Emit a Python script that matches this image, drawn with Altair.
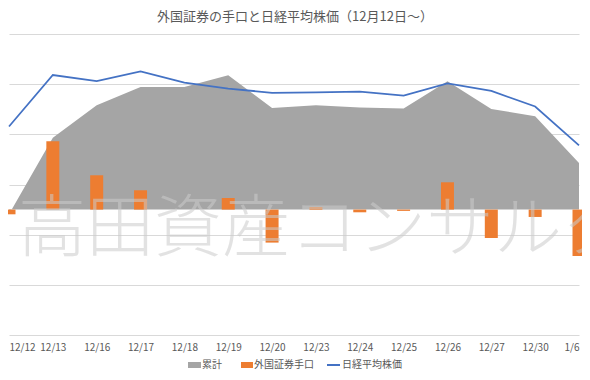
import altair as alt
import pandas as pd

# ---- data ----
dates = ["12/12", "12/13", "12/16", "12/17", "12/18", "12/19", "12/20",
         "12/23", "12/24", "12/25", "12/26", "12/27", "12/30", "1/6"]
foreign_net = [-94, 1361, 684, 385, 0, 231, -658, 52, -54, -26, 544, -566, -147, -925]
cumulative = [-94, 1430, 2079, 2443, 2443, 2677, 2025, 2079, 2033, 2013, 2557, 2005, 1859, 929]
nikkei = [23424.81, 24023.10, 23952.35, 24066.12, 23934.43, 23864.85, 23816.63,
          23821.11, 23830.58, 23782.87, 23924.92, 23837.72, 23656.62, 23204.86]
grid_values = [-2500, -1500, -500, 500, 1500, 2500, 3500]
legend_labels = ["累計", "外国証券手口", "日経平均株価"]
title_text = "外国証券の手口と日経平均株価（12月12日～）"
watermark_text = "高田資産コンサルタント"

df = pd.DataFrame({"date": dates, "net": foreign_net, "cum": cumulative, "nikkei": nikkei})

FONT = "Noto Sans CJK JP"
GRAY = "#A5A5A5"
ORANGE = "#ED7D31"
BLUE = "#4472C4"
TXT = "#595959"

x_enc = alt.X("date:N", sort=dates,
              scale=alt.Scale(type="point", range=[1, 571], padding=0),
              axis=alt.Axis(title=None, labelAngle=0, ticks=False, domain=False, grid=False,
                            labelFont=FONT, labelFontSize=10, labelColor=TXT,
                            labelPadding=7, labelOverlap=False, labelFlush=True))

prim_scale = alt.Scale(domain=[-2500, 3500], nice=False, zero=False)

base = alt.Chart(df)

area = base.mark_area(color=GRAY).encode(
    x=x_enc,
    y=alt.Y("cum:Q", scale=prim_scale,
            axis=alt.Axis(values=grid_values, grid=True, gridColor="#D9D9D9", gridWidth=1,
                          labels=False, ticks=False, domain=False, title=None)),
    y2=alt.datum(0),
)

bars = base.mark_bar(color=ORANGE, size=13).encode(
    x=x_enc,
    y=alt.Y("net:Q", scale=prim_scale, axis=None),
    y2=alt.datum(0),
)

line = base.mark_line(color=BLUE, strokeWidth=1.75).encode(
    x=x_enc,
    y=alt.Y("nikkei:Q", scale=alt.Scale(domain=[21000, 24500], nice=False, zero=False), axis=None),
)

wm = alt.Chart(pd.DataFrame({"t": [watermark_text]})).mark_text(
    font=FONT, fontSize=68, fontWeight=300, color="#CCCCCC", opacity=0.55,
    align="left", baseline="middle"
).encode(x=alt.value(10), y=alt.value(197), text="t:N")

one = pd.DataFrame({"a": [0]})
LEG_Y = 331
leg_gray = alt.Chart(one).mark_rect(color=GRAY).encode(
    x=alt.value(180), x2=alt.value(193), y=alt.value(LEG_Y - 3), y2=alt.value(LEG_Y + 3))
leg_orange = alt.Chart(one).mark_rect(color=ORANGE).encode(
    x=alt.value(233), x2=alt.value(245), y=alt.value(LEG_Y - 3), y2=alt.value(LEG_Y + 3))
leg_blue = alt.Chart(one).mark_rule(color=BLUE, strokeWidth=2).encode(
    x=alt.value(319), x2=alt.value(332), y=alt.value(LEG_Y))

def leg_text(label, xpos):
    return alt.Chart(one).mark_text(font=FONT, fontSize=10, color=TXT, align="left",
                                    baseline="middle").encode(
        x=alt.value(xpos), y=alt.value(LEG_Y), text=alt.value(label))

chart = alt.layer(
    area, bars, line, wm,
    leg_gray, leg_orange, leg_blue,
    leg_text(legend_labels[0], 194),
    leg_text(legend_labels[1], 246),
    leg_text(legend_labels[2], 334),
).resolve_scale(y="independent").properties(
    width=574, height=301,
    padding={"left": 0, "top": 26, "right": 0, "bottom": 37},
    autosize=alt.AutoSizeParams(type="none"),
    title=alt.TitleParams(text=title_text, font=FONT, fontSize=13, color=TXT,
                          fontWeight="normal", anchor="middle", frame="group", offset=10),
).configure_view(strokeWidth=0)

chart.save("out.html", embed_options={"renderer": "svg", "actions": False})
